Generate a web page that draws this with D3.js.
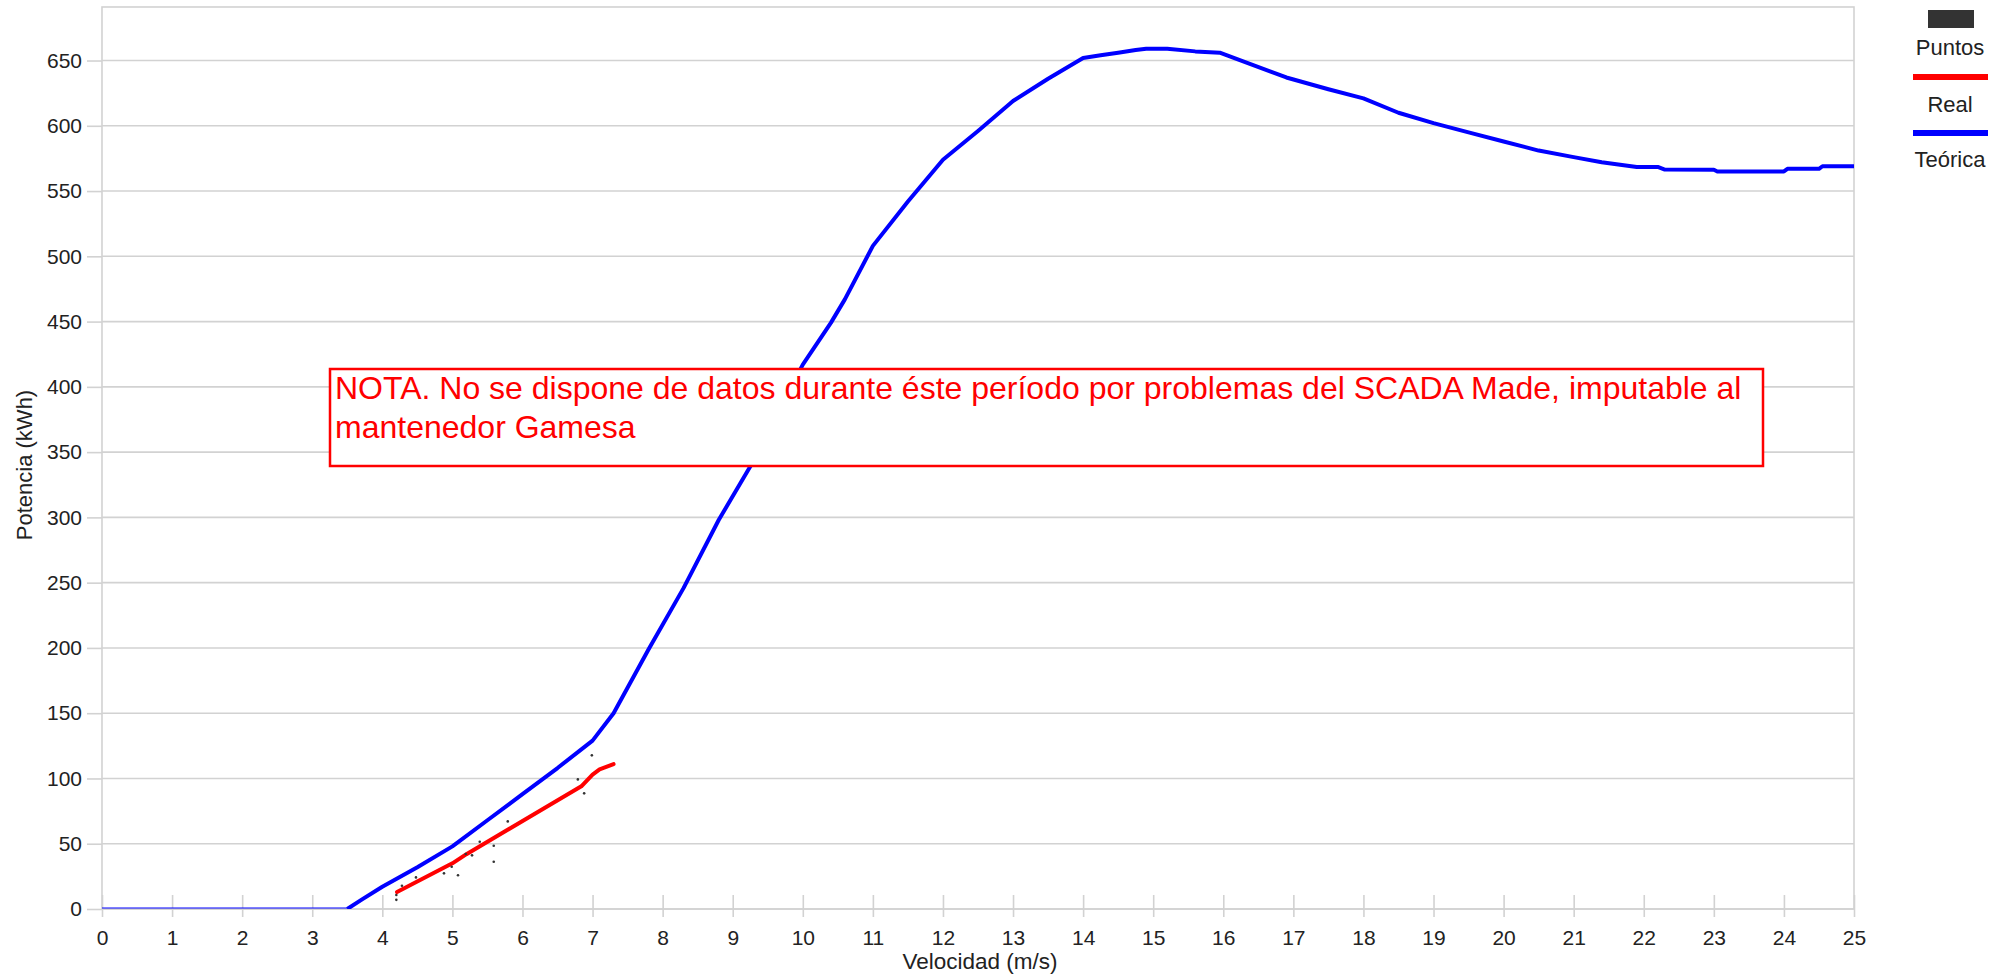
<!DOCTYPE html>
<html>
<head>
<meta charset="utf-8">
<script src="https://cdn.jsdelivr.net/npm/d3@7"></script>
<style>
  html, body { margin: 0; padding: 0; background: #fff; }
  svg { display: block; font-family: "Liberation Sans", Arial, sans-serif; }
</style>
</head>
<body>
<svg id="chart" width="2010" height="976"></svg>
<script>
// Curva teórica del aerogenerador: velocidad (m/s) y potencia (kWh)
const teoricaVel = [0, 3.5, 3.7, 4.0, 4.5, 5.0, 5.5, 6.0, 6.5, 7.0, 7.3, 7.8, 8.3, 8.8, 9.25, 9.6, 10.0, 10.4, 10.6,
  11.0, 11.5, 12.0, 12.5, 13.0, 13.5, 14.0, 14.25, 14.5, 14.75, 14.9, 15.2, 15.6, 15.95, 16.15, 16.9, 17.5, 18.0,
  18.5, 19.0, 19.5, 20.0, 20.5, 21.0, 21.4, 21.9, 22.2, 22.3, 23.0, 23.05, 24.0, 24.05, 24.5, 24.55, 25.0];
const teoricaPot = [0, 0, 7, 17, 32, 48, 68, 88, 108, 129, 150, 199, 246, 298, 339, 376, 417, 449, 467,
  508, 542, 574, 596, 619, 636, 652, 654, 656, 658, 659, 659, 657, 656, 652, 637, 628, 621,
  610, 602, 595, 588, 581, 576, 572, 568.5, 568.5, 566.5, 566.3, 565, 565, 567, 567, 569, 569];

// Curva real ajustada
const realVel = [4.21, 5.0, 5.2, 6.84, 7.0, 7.1, 7.3];
const realPot = [13, 35, 42, 94, 103, 107, 111];

// Puntos medidos
const puntosVel = [4.2, 4.2, 4.28, 4.48, 4.88, 4.99, 5.08, 5.19, 5.28, 5.39, 5.59, 5.59, 5.79, 6.79, 6.88, 6.99];
const puntosPot = [7, 10.7, 17.8, 24.2, 27.3, 32.4, 25.8, 42.1, 41.1, 51.5, 48.5, 36.2, 67.1, 99.3, 88.6, 117.7];

// Marcas de los ejes
const xTicks = d3.range(0, 26, 1);
const yTicks = d3.range(0, 651, 50);

const legendLabels = ["Puntos", "Real", "Teórica"];
const notaLines = [
  "NOTA. No se dispone de datos durante éste período por problemas del SCADA Made, imputable al",
  "mantenedor Gamesa"
];

const teorica = teoricaVel.map((v, i) => ({ v, p: teoricaPot[i] }));
const real = realVel.map((v, i) => ({ v, p: realPot[i] }));
const puntos = puntosVel.map((v, i) => ({ v, p: puntosPot[i] }));

const svg = d3.select("#chart");
const plotL = 102, plotR = 1854, plotT = 7, plotB = 909;

const x = d3.scaleLinear().domain([0, 25]).range([plotL, plotR]);
const y = d3.scaleLinear().domain([0, 691]).range([plotB, plotT]);

const gridColor = "#d2d2d2";
const textColor = "#222";

svg.append("defs").append("clipPath").attr("id", "plotClip")
  .append("rect").attr("x", plotL).attr("y", plotT).attr("width", plotR - plotL).attr("height", plotB - plotT);

// Rejilla horizontal
svg.append("g").selectAll("line").data(yTicks).join("line")
  .attr("x1", plotL).attr("x2", plotR)
  .attr("y1", d => y(d)).attr("y2", d => y(d))
  .attr("stroke", gridColor).attr("stroke-width", 1.6);

// Marco del área de trazado
svg.append("rect")
  .attr("x", plotL).attr("y", plotT).attr("width", plotR - plotL).attr("height", plotB - plotT)
  .attr("fill", "none").attr("stroke", gridColor).attr("stroke-width", 1.6);

// Eje Y
const yAxis = svg.append("g")
  .attr("transform", `translate(${plotL},0)`)
  .call(d3.axisLeft(y).tickValues(yTicks).tickSize(15).tickPadding(5));
yAxis.select(".domain").remove();
yAxis.selectAll(".tick line").attr("stroke", gridColor).attr("stroke-width", 1.6);
yAxis.selectAll(".tick text").attr("fill", textColor)
  .style("font-size", "21px").style("font-family", "Liberation Sans, Arial, sans-serif");

// Eje X
const xAxis = svg.append("g")
  .attr("transform", `translate(0,${plotB - 14})`)
  .call(d3.axisBottom(x).tickValues(xTicks).tickSize(22).tickPadding(13));
xAxis.select(".domain").remove();
xAxis.selectAll(".tick line").attr("stroke", gridColor).attr("stroke-width", 1.6);
xAxis.selectAll(".tick text").attr("fill", textColor)
  .style("font-size", "21px").style("font-family", "Liberation Sans, Arial, sans-serif");

// Títulos de los ejes
svg.append("text")
  .attr("x", (plotL + plotR) / 2 + 2).attr("y", 969)
  .attr("text-anchor", "middle").attr("fill", textColor)
  .style("font-size", "22.5px")
  .text("Velocidad (m/s)");

svg.append("text")
  .attr("transform", "translate(32,465) rotate(-90)")
  .attr("text-anchor", "middle").attr("fill", textColor)
  .style("font-size", "22px")
  .text("Potencia (kWh)");

const line = d3.line().x(d => x(d.v)).y(d => y(d.p));
const plot = svg.append("g").attr("clip-path", "url(#plotClip)");

// Tramo de potencia nula de la curva teórica
plot.append("path")
  .datum(teorica.filter(d => d.v <= 3.5))
  .attr("d", line).attr("fill", "none")
  .attr("stroke", "#0000ff").attr("stroke-opacity", 0.5).attr("stroke-width", 4);

// Curva teórica
plot.append("path")
  .datum(teorica.filter(d => d.v >= 3.5))
  .attr("d", line).attr("fill", "none")
  .attr("stroke", "#0000ff").attr("stroke-width", 4)
  .attr("stroke-linejoin", "round");

// Curva real
plot.append("path")
  .datum(real)
  .attr("d", line).attr("fill", "none")
  .attr("stroke", "#ff0000").attr("stroke-width", 4)
  .attr("stroke-linejoin", "round").attr("stroke-linecap", "round");

// Puntos
plot.append("g").selectAll("circle").data(puntos).join("circle")
  .attr("cx", d => x(d.v)).attr("cy", d => y(d.p)).attr("r", 1.3)
  .attr("fill", "#333");

// Leyenda
const lg = svg.append("g");
const lgCx = 1950;
lg.append("rect").attr("x", 1928).attr("y", 10).attr("width", 46).attr("height", 18).attr("fill", "#333");
lg.append("line").attr("x1", 1913).attr("x2", 1988).attr("y1", 77).attr("y2", 77)
  .attr("stroke", "#ff0000").attr("stroke-width", 6);
lg.append("line").attr("x1", 1913).attr("x2", 1988).attr("y1", 133).attr("y2", 133)
  .attr("stroke", "#0000ff").attr("stroke-width", 6);
lg.selectAll("text").data(legendLabels).join("text")
  .attr("x", lgCx).attr("y", (d, i) => [55, 112, 167][i])
  .attr("text-anchor", "middle").attr("fill", textColor)
  .style("font-size", "22px")
  .text(d => d);

// Nota
const nota = svg.append("g");
nota.append("rect")
  .attr("x", 330).attr("y", 369).attr("width", 1433).attr("height", 97)
  .attr("fill", "#fff").attr("stroke", "#ff0000").attr("stroke-width", 2.5);
nota.selectAll("text").data(notaLines).join("text")
  .attr("x", 335).attr("y", (d, i) => 399 + i * 39)
  .attr("fill", "#ff0000")
  .style("font-size", "32px")
  .text(d => d);
</script>
</body>
</html>
